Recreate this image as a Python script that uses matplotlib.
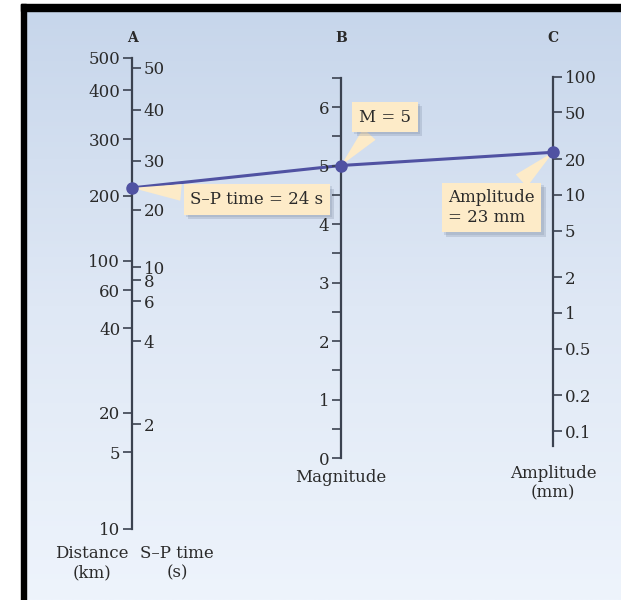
import numpy as np
import matplotlib
matplotlib.use("Agg")
import matplotlib.pyplot as plt
from matplotlib import patheffects
from matplotlib.patches import ConnectionPatch, Rectangle
from matplotlib.colors import LinearSegmentedColormap
from matplotlib.ticker import FixedLocator, FixedFormatter, NullLocator

plt.rcParams['font.family'] = 'DejaVu Serif'

# Scale A: distance (left side) and S-P time (right side),
# printed at heights measured on the magnitude scale of B
dist_labels = ['500', '400', '300', '200', '100', '60', '40', '20', '5', '10']
dist_height = [6.84, 6.29, 5.45, 4.48, 3.37, 2.87, 2.22, 0.77, 0.10, -1.21]
sp_values = [50, 40, 30, 20, 10, 8, 6, 4, 2]
sp_height = [6.67, 5.95, 5.08, 4.24, 3.26, 3.04, 2.68, 2.00, 0.58]

# Scale B: magnitude
mag_major = [0, 1, 2, 3, 4, 5, 6]
mag_minor = [0.5, 1.5, 2.5, 3.5, 4.5, 5.5, 6.5]

# Scale C: amplitude in mm (log)
amp_ticks = [100, 50, 20, 10, 5, 2, 1, 0.5, 0.2, 0.1]
amp_labels = ['100', '50', '20', '10', '5', '2', '1', '0.5', '0.2', '0.1']
amp_bottom = 0.075

# worked example
sp_time = 24
magnitude = 5
amplitude = 23

W, H = 621, 600
axis_col = '#3b4250'
text_col = '#2a2a2a'
line_col = '#5052a2'
box_col = '#fdebc8'

fig = plt.figure(figsize=(W / 100, H / 100), dpi=100)

# background panel with soft blue gradient
bg = fig.add_axes([26 / W, 0, 1 - 26 / W, 589 / H], zorder=-2)
cmap = LinearSegmentedColormap.from_list('bg', ['#c7d6eb', '#dfe8f5', '#eef4fc'])
bg.imshow(np.linspace(0, 1, 256).reshape(-1, 1), aspect='auto', cmap=cmap,
          extent=[0, 1, 0, 1])
bg.axis('off')

# black frame on top and left
fig.add_artist(Rectangle((21 / W, 589 / H), 1 - 21 / W, 7 / H,
                         transform=fig.transFigure, color='black'))
fig.add_artist(Rectangle((21 / W, 0), 5 / W, 596 / H,
                         transform=fig.transFigure, color='black'))

ylim_mag = (-2.427, 7.641)
ylim_amp = (10 ** -2.432, 10 ** 2.559)


def make_axis(xpix):
    ax = fig.add_axes([xpix / W - 0.05, 0, 0.1, 589 / H])
    ax.set_xlim(-1, 1)
    ax.patch.set_alpha(0)
    for s in ['top', 'bottom', 'left', 'right']:
        ax.spines[s].set_visible(False)
    ax.xaxis.set_visible(False)
    return ax


def style_ticks(ax, side):
    ax.tick_params(axis='y', which='both', direction='out', length=6.5,
                   width=1.2, color=axis_col, labelsize=12, labelcolor=text_col,
                   pad=2, left=(side == 'left'), labelleft=(side == 'left'),
                   right=(side == 'right'), labelright=(side == 'right'))


# ---- A ----
axA = make_axis(132)
axA.set_ylim(*ylim_mag)
axA.spines['left'].set_visible(True)
axA.spines['left'].set_position(('data', 0))
axA.spines['left'].set_bounds(min(dist_height), max(dist_height))
axA.spines['left'].set_color(axis_col)
axA.spines['left'].set_linewidth(1.6)
axA.yaxis.set_major_locator(FixedLocator(dist_height))
axA.yaxis.set_major_formatter(FixedFormatter(dist_labels))
style_ticks(axA, 'left')

axA2 = axA.twinx()
axA2.set_ylim(*ylim_mag)
for s in ['top', 'bottom', 'left', 'right']:
    axA2.spines[s].set_visible(False)
axA2.spines['right'].set_position(('data', 0))
axA2.yaxis.set_major_locator(FixedLocator(sp_height))
axA2.yaxis.set_major_formatter(FixedFormatter([str(v) for v in sp_values]))
style_ticks(axA2, 'right')

# ---- B ----
axB = make_axis(341)
axB.set_ylim(*ylim_mag)
axB.spines['left'].set_visible(True)
axB.spines['left'].set_position(('data', 0))
axB.spines['left'].set_bounds(0, max(mag_minor))
axB.spines['left'].set_color(axis_col)
axB.spines['left'].set_linewidth(1.6)
axB.yaxis.set_major_locator(FixedLocator(mag_major))
axB.yaxis.set_minor_locator(FixedLocator(mag_minor))
axB.yaxis.set_major_formatter(FixedFormatter([str(v) for v in mag_major]))
style_ticks(axB, 'left')

# ---- C ----
axC = make_axis(553)
axC.set_yscale('log')
axC.set_ylim(*ylim_amp)
axC.spines['right'].set_visible(True)
axC.spines['right'].set_position(('data', 0))
axC.spines['right'].set_bounds(amp_bottom, max(amp_ticks))
axC.spines['right'].set_color(axis_col)
axC.spines['right'].set_linewidth(1.6)
axC.yaxis.set_major_locator(FixedLocator(amp_ticks))
axC.yaxis.set_major_formatter(FixedFormatter(amp_labels))
axC.yaxis.set_minor_locator(NullLocator())
style_ticks(axC, 'right')

# ---- example line ----
sp_y = np.interp(np.log10(sp_time), np.log10(sp_values[::-1]), sp_height[::-1])
for (axa, ya), (axb, yb) in [((axA, sp_y), (axB, magnitude)),
                             ((axB, magnitude), (axC, amplitude))]:
    con = ConnectionPatch(xyA=(0, ya), coordsA=axa.transData,
                          xyB=(0, yb), coordsB=axb.transData,
                          color=line_col, lw=2.2, zorder=-0.5)
    fig.add_artist(con)

for ax, yv in [(axA, sp_y), (axB, magnitude), (axC, amplitude)]:
    ax.plot(0, yv, 'o', ms=8, color=line_col, clip_on=False, zorder=5)

# ---- callouts ----
def callout(ax, yv, text, xy_pix):
    t = ax.annotate(text, xy=(0, yv), xytext=xy_pix, textcoords='figure pixels',
                    ha='center', va='center', multialignment='left',
                    fontsize=12, color=text_col, zorder=4,
                    bbox=dict(boxstyle='square,pad=0.4', fc=box_col, ec='none'),
                    arrowprops=dict(arrowstyle='wedge,tail_width=1.0,shrink_factor=0.5',
                                    fc=box_col, ec='none', shrinkB=0))
    t.get_bbox_patch().set_path_effects([
        patheffects.withSimplePatchShadow(offset=(3, -3), shadow_rgbFace='#6a7890',
                                          alpha=0.22),
        patheffects.withSimplePatchShadow(offset=(1.5, -1.5), shadow_rgbFace='#6a7890',
                                          alpha=0.18),
        patheffects.Normal()])
    return t


callout(axA, sp_y, 'S\u2013P time = 24 s', (257, H - 199.5))
callout(axB, magnitude, 'M = 5', (385, H - 117))
callout(axC, amplitude, 'Amplitude\n= 23 mm', (491.5, H - 207.5))

# ---- headers and scale names ----
for xp, letter in [(132, 'A'), (341, 'B'), (553, 'C')]:
    fig.text(xp / W, 1 - 38 / H, letter, ha='center', va='center',
             fontsize=10, fontweight='bold', color=text_col)

fig.text(92 / W, 1 - 563 / H, 'Distance\n(km)', ha='center', va='center',
         fontsize=12, color=text_col, linespacing=1.15)
fig.text(177 / W, 1 - 563 / H, 'S\u2013P time\n(s)', ha='center', va='center',
         fontsize=12, color=text_col, linespacing=1.15)
fig.text(341 / W, 1 - 477 / H, 'Magnitude', ha='center', va='center',
         fontsize=12, color=text_col)
fig.text(553 / W, 1 - 483 / H, 'Amplitude\n(mm)', ha='center', va='center',
         fontsize=12, color=text_col, linespacing=1.15)

fig.savefig('out.png', dpi=100)
